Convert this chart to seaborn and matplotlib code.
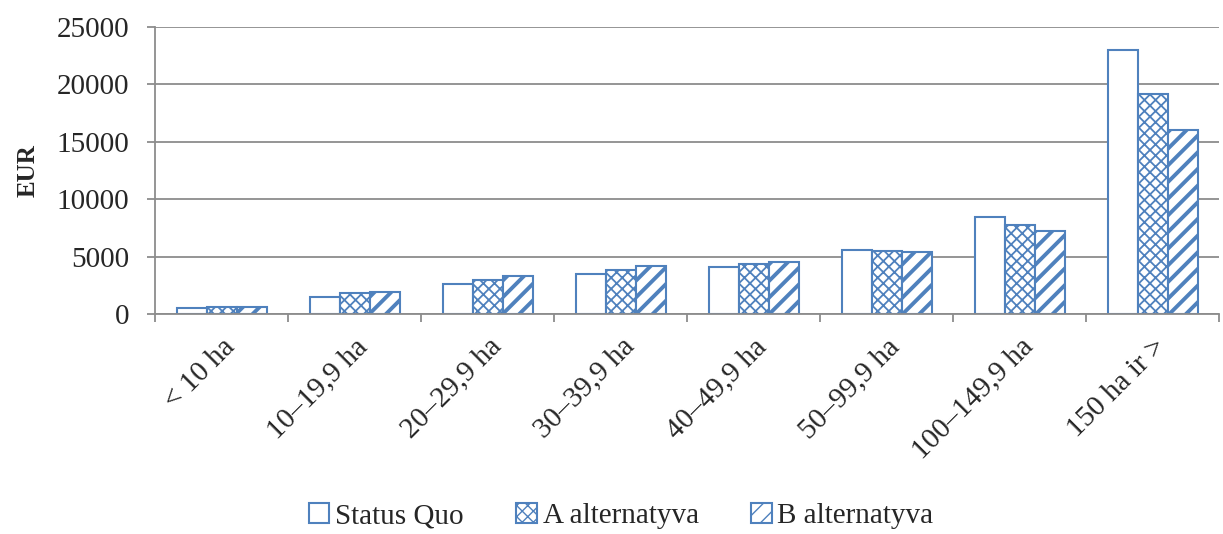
import matplotlib
matplotlib.use("Agg")
import matplotlib.pyplot as plt
from matplotlib.patches import Patch
import seaborn as sns
import pandas as pd
import numpy as np

categories = ["< 10 ha", "10–19,9 ha", "20–29,9 ha", "30–39,9 ha",
              "40–49,9 ha", "50–99,9 ha", "100–149,9 ha", "150 ha ir >"]
status_quo = [500, 1520, 2600, 3480, 4050, 5550, 8450, 22950]
alt_a = [590, 1790, 2950, 3850, 4320, 5480, 7780, 19150]
alt_b = [650, 1940, 3280, 4180, 4520, 5390, 7220, 16020]
series = ["Status Quo", "A alternatyva", "B alternatyva"]

df = pd.DataFrame({
    "cat": categories * 3,
    "val": status_quo + alt_a + alt_b,
    "ser": [series[0]] * 8 + [series[1]] * 8 + [series[2]] * 8,
})

sns.set_theme(style="white")
plt.rcParams["font.family"] = ["Liberation Serif", "DejaVu Serif"]
plt.rcParams["hatch.color"] = "#4F81BD"

blue = "#4F81BD"
grid = "#8C8C8C"

# hatch pattern and hatch line width for each series
hatch_style = {0: (None, 1.0), 1: ("xxx", 1.3), 2: ("//", 2.8)}


def style_patch(p, idx):
    h, lw = hatch_style[idx]
    p.set_edgecolor(blue)
    if h:
        p.set_hatch(h)
        if hasattr(p, "set_hatch_linewidth"):
            p.set_hatch_linewidth(lw)


fig = plt.figure(figsize=(12.23, 5.34), dpi=100)
ax = fig.add_axes([0.127, 0.412, 0.87, 0.538])

sns.barplot(data=df, x="cat", y="val", hue="ser", order=categories,
            hue_order=series, palette=["white", "white", "white"],
            width=0.68, gap=0, edgecolor=blue, linewidth=1.5,
            errorbar=None, ax=ax, legend=False)

for i, cont in enumerate(ax.containers):
    for bar in cont:
        style_patch(bar, i)

ax.set_ylim(0, 25000)
ax.set_xlim(-0.5, len(categories) - 0.5)
ax.set_yticks(np.arange(0, 25001, 5000))
ax.yaxis.grid(True, color=grid, linewidth=1.3)
ax.set_axisbelow(True)
for s in ["top", "right"]:
    ax.spines[s].set_visible(False)
for s in ["left", "bottom"]:
    ax.spines[s].set_color(grid)
    ax.spines[s].set_linewidth(1.3)

ax.set_xticks(np.arange(-0.5, len(categories), 1.0), minor=True)
ax.tick_params(axis="x", which="minor", length=6, color=grid, width=1.3,
               direction="out", bottom=True)
ax.tick_params(axis="x", which="major", length=0, pad=14)
ax.tick_params(axis="y", length=6, color=grid, width=1.3, direction="out",
               left=True, labelsize=21, pad=13)
ax.set_xticks(range(len(categories)))
ax.set_xticklabels(categories, rotation=45, ha="right",
                   rotation_mode="anchor", fontsize=21)
ax.set_xlabel("")
ax.set_ylabel("EUR", fontsize=18, fontweight="bold", labelpad=12)

handles = []
for i in range(3):
    p = Patch(facecolor="white", edgecolor=blue, linewidth=1.5)
    style_patch(p, i)
    handles.append(p)
fig.legend(handles, series, loc="lower center", ncol=3, frameon=False,
           fontsize=21, bbox_to_anchor=(0.508, -0.04), handlelength=0.7,
           handleheight=0.7, handletextpad=0.2, columnspacing=1.8)

fig.savefig("out.png", dpi=100)
